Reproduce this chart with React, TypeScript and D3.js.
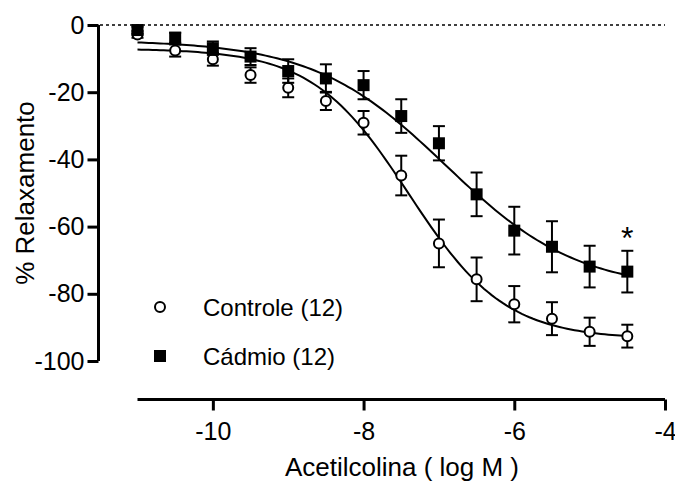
import React, { useEffect, useRef } from "react";
import * as d3 from "d3";

// log [ACh] (M)
const logConc = [-11, -10.5, -10, -9.5, -9, -8.5, -8, -7.5, -7, -6.5, -6, -5.5, -5, -4.5];

const controleMean = [-2.8, -7.6, -10.2, -14.9, -18.7, -22.6, -29.1, -44.8, -65.0, -75.7, -83.1, -87.4, -91.3, -92.6];
const controleSem = [1.0, 1.8, 1.9, 2.3, 2.8, 2.7, 3.5, 5.9, 7.1, 6.5, 5.4, 4.9, 4.2, 3.4];

const cadmioMean = [-1.5, -3.8, -6.9, -9.4, -13.7, -15.9, -17.9, -27.1, -35.2, -50.4, -61.2, -66.0, -71.9, -73.4];
const cadmioSem = [1.0, 1.5, 2.0, 2.5, 3.5, 4.2, 4.2, 5.0, 5.1, 6.5, 7.1, 7.6, 6.2, 6.2];

// sigmoid fit params: top, bottom, logEC50, hill slope
const controleFit = [-7.0, -93.5, -7.4, 0.68];
const cadmioFit = [-4.5, -79.0, -6.91, 0.494];

const xTicks = [-10, -8, -6, -4];
const yTicks = [0, -20, -40, -60, -80, -100];

const FONT = "'Liberation Sans', Arial, Helvetica, sans-serif";

function hill(p, x) {
  return p[0] + (p[1] - p[0]) / (1 + Math.pow(10, (p[2] - x) * p[3]));
}

export default function App() {
  const ref = useRef(null);

  useEffect(() => {
    const svg = d3.select(ref.current);
    svg.selectAll("*").remove();

    const x = d3.scaleLinear().domain([-11, -4]).range([137.5, 665]);
    const y = d3.scaleLinear().domain([0, -100]).range([25, 361]);
    const fmt = d => String(d); // plain hyphen, not unicode minus

    // dotted zero line
    svg.append("line")
      .attr("x1", 100).attr("x2", x(-4))
      .attr("y1", y(0)).attr("y2", y(0))
      .attr("stroke", "#000").attr("stroke-width", 1.5)
      .attr("stroke-dasharray", "3,3");

    // y axis
    const yAxis = d3.axisLeft(y).tickValues(yTicks).tickSize(11).tickPadding(3).tickFormat(fmt);
    const gy = svg.append("g").attr("transform", "translate(98.5,0)").call(yAxis);
    gy.select(".domain").attr("stroke-width", 3).attr("d", `M0,${y(0)}V${y(-100)}`);
    gy.selectAll(".tick line").attr("stroke-width", 3);
    gy.selectAll(".tick text").attr("font-size", 25).attr("font-family", FONT).attr("fill", "#000");

    // x axis
    const xAxis = d3.axisBottom(x).tickValues(xTicks).tickSize(11).tickPadding(12).tickFormat(fmt);
    const gx = svg.append("g").attr("transform", "translate(0,399.5)").call(xAxis);
    gx.select(".domain").attr("stroke-width", 3).attr("d", `M${x(-11)},0H${x(-4)}`);
    gx.selectAll(".tick line").attr("stroke-width", 3);
    gx.selectAll(".tick text").attr("font-size", 25).attr("font-family", FONT).attr("fill", "#000");

    // axis titles
    svg.append("text")
      .attr("x", 402).attr("y", 476)
      .attr("text-anchor", "middle")
      .attr("font-size", 26).attr("font-family", FONT)
      .text("Acetilcolina ( log M )");

    svg.append("text")
      .attr("transform", "translate(34,193) rotate(-90)")
      .attr("text-anchor", "middle")
      .attr("font-size", 26).attr("font-family", FONT)
      .text("% Relaxamento");

    // fitted curves
    const xs = d3.range(-11, -4.5 + 0.001, 0.05);
    const line = d3.line().x(d => x(d[0])).y(d => y(d[1]));
    [controleFit, cadmioFit].forEach(p => {
      svg.append("path")
        .attr("d", line(xs.map(v => [v, hill(p, v)])))
        .attr("fill", "none").attr("stroke", "#000").attr("stroke-width", 2);
    });

    // error bars + markers
    const drawSeries = (mean, sem, kind) => {
      const g = svg.append("g");
      logConc.forEach((c, i) => {
        const cx = x(c);
        const y1 = y(mean[i] + sem[i]);
        const y2 = y(mean[i] - sem[i]);
        g.append("line").attr("x1", cx).attr("x2", cx).attr("y1", y1).attr("y2", y2)
          .attr("stroke", "#000").attr("stroke-width", 2);
        [y1, y2].forEach(yy => {
          g.append("line").attr("x1", cx - 6).attr("x2", cx + 6).attr("y1", yy).attr("y2", yy)
            .attr("stroke", "#000").attr("stroke-width", 2);
        });
        if (kind === "circle") {
          g.append("circle").attr("cx", cx).attr("cy", y(mean[i])).attr("r", 5)
            .attr("fill", "#fff").attr("stroke", "#000").attr("stroke-width", 2);
        } else {
          g.append("rect").attr("x", cx - 6).attr("y", y(mean[i]) - 6)
            .attr("width", 12).attr("height", 12).attr("fill", "#000");
        }
      });
    };
    drawSeries(controleMean, controleSem, "circle");
    drawSeries(cadmioMean, cadmioSem, "square");

    // significance mark on last cádmio point
    const last = logConc.length - 1;
    svg.append("text")
      .attr("x", x(logConc[last])).attr("y", y(cadmioMean[last] + cadmioSem[last]) - 2)
      .attr("text-anchor", "middle")
      .attr("font-size", 32).attr("font-family", FONT)
      .text("*");

    // legend
    const lg = svg.append("g");
    lg.append("circle").attr("cx", 160).attr("cy", 307).attr("r", 5)
      .attr("fill", "#fff").attr("stroke", "#000").attr("stroke-width", 2);
    lg.append("rect").attr("x", 154).attr("y", 350).attr("width", 12).attr("height", 12).attr("fill", "#000");
    lg.append("text").attr("x", 203).attr("y", 315.5)
      .attr("font-size", 24).attr("font-family", FONT).text("Controle (12)");
    lg.append("text").attr("x", 203).attr("y", 364.5)
      .attr("font-size", 24).attr("font-family", FONT).text("Cádmio (12)");
  }, []);

  return (
    <svg ref={ref} width={675} height={484}
      style={{ position: "absolute", left: 0, top: 0, background: "#fff" }} />
  );
}
